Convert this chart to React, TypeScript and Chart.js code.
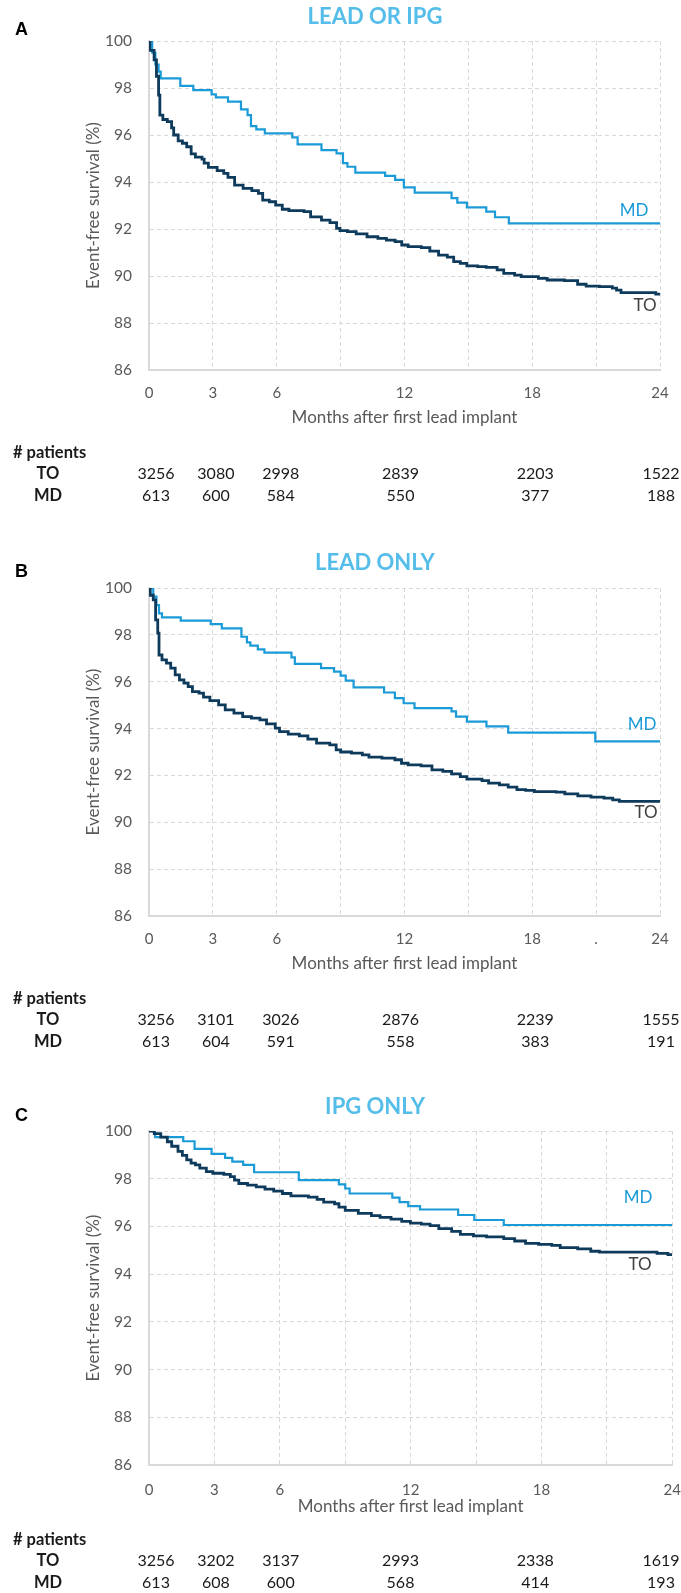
import React, { useEffect, useRef } from 'react';
import { Chart, registerables } from 'chart.js';

Chart.register(...registerables);

const FONT = 'Lato, "Open Sans", sans-serif';
const TO_COLOR = '#0e3a5c';
const MD_COLOR = '#1b9ad8';
const TITLE_COLOR = '#55bde9';
const AXIS_TEXT = '#595959';

// ---- data (month, event-free survival %) ----
const leadOrIpgTO: [number, number][] = [
  [0, 100], [0.04, 99.6], [0.24, 99.2], [0.35, 98.5], [0.45, 97.7], [0.51, 96.85], [0.65, 96.66],
  [0.86, 96.57], [1.06, 96.3], [1.16, 96.0], [1.37, 95.75], [1.57, 95.65], [1.77, 95.5], [1.98, 95.2],
  [2.18, 95.06], [2.49, 94.97], [2.59, 94.8], [2.79, 94.62], [3.2, 94.48], [3.51, 94.37], [3.71, 94.2],
  [4.02, 93.87], [4.42, 93.73], [4.83, 93.63], [5.14, 93.52], [5.34, 93.23], [5.65, 93.16], [5.95, 93.02],
  [6.26, 92.84], [6.57, 92.78], [7.28, 92.74], [7.59, 92.52], [8.1, 92.38], [8.5, 92.27], [8.81, 92.03],
  [8.97, 91.93], [9.32, 91.89], [9.73, 91.79], [10.24, 91.67], [10.75, 91.6], [11.15, 91.53], [11.56, 91.46],
  [11.87, 91.32], [12.17, 91.25], [12.79, 91.21], [13.19, 91.06], [13.6, 90.89], [14.01, 90.8], [14.31, 90.61],
  [14.62, 90.54], [14.93, 90.43], [15.44, 90.4], [15.84, 90.37], [16.35, 90.26], [16.66, 90.11], [17.17, 90.04],
  [17.48, 89.97], [18.29, 89.9], [18.7, 89.83], [19.51, 89.8], [20.13, 89.65], [20.53, 89.57], [21.15, 89.55],
  [21.76, 89.48], [21.96, 89.4], [22.17, 89.29], [23.8, 89.23], [24, 89.23],
];
const leadOrIpgMD: [number, number][] = [
  [0, 100], [0.15, 99.5], [0.3, 99.0], [0.45, 98.7], [0.55, 98.41], [1.47, 98.09], [2.08, 97.91],
  [2.94, 97.73], [3.14, 97.6], [3.71, 97.42], [4.32, 97.09], [4.63, 96.85], [4.79, 96.38], [5.04, 96.24],
  [5.44, 96.07], [6.73, 95.9], [6.98, 95.6], [8.1, 95.36], [8.81, 95.22], [9.11, 94.8], [9.32, 94.65],
  [9.69, 94.4], [11.09, 94.26], [11.56, 94.09], [11.97, 93.77], [12.48, 93.55], [14.21, 93.31], [14.48, 93.12],
  [14.93, 92.92], [15.84, 92.74], [16.25, 92.5], [16.9, 92.24], [24, 92.24],
];
const leadOnlyTO: [number, number][] = [
  [0, 100], [0.06, 99.69], [0.2, 99.49], [0.31, 98.64], [0.41, 98.07], [0.47, 97.14], [0.61, 96.93],
  [0.82, 96.79], [1.02, 96.58], [1.23, 96.29], [1.43, 96.08], [1.64, 95.94], [1.84, 95.79], [2.04, 95.58],
  [2.35, 95.51], [2.56, 95.34], [2.86, 95.19], [3.27, 95.01], [3.58, 94.8], [3.99, 94.66], [4.4, 94.51],
  [4.81, 94.45], [5.21, 94.37], [5.52, 94.2], [5.93, 94.02], [6.13, 93.87], [6.54, 93.76], [7.06, 93.69],
  [7.46, 93.55], [7.87, 93.38], [8.49, 93.3], [8.79, 93.09], [9.0, 93.0], [9.51, 92.95], [10.02, 92.88],
  [10.33, 92.78], [10.94, 92.74], [11.55, 92.67], [11.86, 92.52], [12.17, 92.45], [12.78, 92.41], [13.29, 92.24],
  [13.8, 92.17], [14.21, 92.07], [14.62, 91.95], [14.93, 91.84], [15.64, 91.78], [15.95, 91.67], [16.46, 91.6],
  [16.87, 91.5], [17.28, 91.39], [17.69, 91.36], [18.1, 91.31], [19.12, 91.29], [19.53, 91.21], [20.14, 91.13],
  [20.76, 91.07], [21.37, 91.03], [21.78, 90.96], [22.09, 90.89], [24, 90.89],
];
const leadOnlyMD: [number, number][] = [
  [0, 100], [0.2, 99.63], [0.35, 99.27], [0.47, 98.92], [0.61, 98.75], [1.49, 98.61], [2.9, 98.46],
  [3.42, 98.28], [4.34, 97.92], [4.6, 97.68], [4.76, 97.54], [5.11, 97.38], [5.42, 97.24], [6.69, 97.04],
  [6.85, 96.76], [8.08, 96.58], [8.69, 96.43], [9.0, 96.26], [9.24, 96.05], [9.61, 95.76], [11.04, 95.54],
  [11.55, 95.3], [11.96, 95.08], [12.47, 94.87], [14.21, 94.73], [14.42, 94.51], [14.93, 94.3], [15.85, 94.09],
  [16.87, 93.83], [20.96, 93.45], [24, 93.45],
];
const ipgOnlyTO: [number, number][] = [
  [0, 100], [0.24, 99.89], [0.54, 99.74], [0.84, 99.55], [1.04, 99.36], [1.33, 99.15], [1.53, 98.98],
  [1.73, 98.79], [1.93, 98.65], [2.13, 98.58], [2.33, 98.44], [2.63, 98.3], [2.93, 98.23], [3.43, 98.18],
  [3.73, 98.09], [3.92, 97.94], [4.12, 97.8], [4.52, 97.73], [4.92, 97.66], [5.32, 97.56], [5.72, 97.48],
  [6.12, 97.38], [6.51, 97.28], [7.31, 97.23], [7.71, 97.13], [8.01, 97.02], [8.51, 96.95], [8.71, 96.81],
  [9.0, 96.67], [9.6, 96.55], [10.2, 96.45], [10.6, 96.38], [11.1, 96.31], [11.59, 96.21], [11.99, 96.14],
  [12.49, 96.1], [12.89, 96.03], [13.29, 95.91], [13.88, 95.79], [14.28, 95.67], [14.88, 95.6], [15.48, 95.56],
  [16.27, 95.49], [16.77, 95.39], [17.27, 95.29], [17.87, 95.25], [18.47, 95.21], [18.86, 95.11], [19.66, 95.06],
  [20.26, 94.96], [20.66, 94.92], [23.3, 94.87], [23.8, 94.82], [24, 94.82],
];
const ipgOnlyMD: [number, number][] = [
  [0, 100], [0.28, 99.74], [1.57, 99.57], [2.09, 99.25], [2.87, 99.04], [3.49, 98.87], [3.82, 98.72],
  [4.32, 98.58], [4.82, 98.27], [6.87, 97.94], [8.71, 97.76], [9.0, 97.59], [9.2, 97.38], [11.16, 97.21],
  [11.49, 97.02], [11.89, 96.85], [12.43, 96.71], [14.18, 96.48], [14.92, 96.27], [16.27, 96.06], [24, 96.06],
];

// ---- axis tick labels ----
const monthTickLabels = ['0', '3', '6', '', '12', '', '18', '', '24'];
const monthTickLabelsB = ['0', '3', '6', '', '12', '', '18', '.', '24'];

// ---- numbers at risk ----
const riskMonths = [0, 3, 6, 12, 18, 24];
const riskLeadOrIpgTO = [3256, 3080, 2998, 2839, 2203, 1522];
const riskLeadOrIpgMD = [613, 600, 584, 550, 377, 188];
const riskLeadOnlyTO = [3256, 3101, 3026, 2876, 2239, 1555];
const riskLeadOnlyMD = [613, 604, 591, 558, 383, 191];
const riskIpgOnlyTO = [3256, 3202, 3137, 2993, 2338, 1619];
const riskIpgOnlyMD = [613, 608, 600, 568, 414, 193];

// ---- layout (global page coordinates) ----
type PanelCfg = {
  letter: string; title: string;
  to: [number, number][]; md: [number, number][];
  ticks: string[]; riskTO: number[]; riskMD: number[];
  top: number; height: number;
  plotTop: number; plotBottom: number; plotRight: number;
  letterY: number; titleY: number;
  xTickGap: number; xTitlePad: number;
  mdLbl: [number, number]; toLbl: [number, number];
  tableY: [number, number, number];
};

const PLOT_LEFT = 149;
const X_SCALE_H = 60;
const TABLE_SPAN = 511;
const TABLE_DX = [7, 3, 4, -4, 3, 1];

const panels: PanelCfg[] = [
  {
    letter: 'A', title: 'LEAD OR IPG', to: leadOrIpgTO, md: leadOrIpgMD, ticks: monthTickLabels,
    riskTO: riskLeadOrIpgTO, riskMD: riskLeadOrIpgMD,
    top: 0, height: 530, plotTop: 41, plotBottom: 370, plotRight: 660,
    letterY: 30, titleY: 17, xTickGap: 14, xTitlePad: 2,
    mdLbl: [634, 211], toLbl: [645, 306], tableY: [453, 474, 496],
  },
  {
    letter: 'B', title: 'LEAD ONLY', to: leadOnlyTO, md: leadOnlyMD, ticks: monthTickLabelsB,
    riskTO: riskLeadOnlyTO, riskMD: riskLeadOnlyMD,
    top: 530, height: 530, plotTop: 588, plotBottom: 916, plotRight: 660,
    letterY: 572, titleY: 563, xTickGap: 14, xTitlePad: 2,
    mdLbl: [642, 725], toLbl: [646, 813], tableY: [999, 1020, 1042],
  },
  {
    letter: 'C', title: 'IPG ONLY', to: ipgOnlyTO, md: ipgOnlyMD, ticks: monthTickLabels,
    riskTO: riskIpgOnlyTO, riskMD: riskIpgOnlyMD,
    top: 1060, height: 533, plotTop: 1131, plotBottom: 1465, plotRight: 673,
    letterY: 1116, titleY: 1107, xTickGap: 16, xTitlePad: 8,
    mdLbl: [638, 1198], toLbl: [640, 1265], tableY: [1540, 1561, 1583],
  },
];

function makeOverlay(p: PanelCfg) {
  return {
    id: 'overlay' + p.letter,
    afterDraw(chart: any) {
      const ctx: CanvasRenderingContext2D = chart.ctx;
      const o = p.top;
      ctx.save();
      ctx.textBaseline = 'middle';
      // panel letter
      ctx.font = 'bold 18px "Liberation Sans", Arial, sans-serif';
      ctx.fillStyle = '#000';
      ctx.textAlign = 'left';
      ctx.fillText(p.letter, 15, p.letterY - o);
      // title
      ctx.font = `bold 22px ${FONT}`;
      ctx.fillStyle = TITLE_COLOR;
      ctx.textAlign = 'center';
      ctx.fillText(p.title, 375, p.titleY - o);
      // end labels
      ctx.font = `17px ${FONT}`;
      ctx.fillStyle = MD_COLOR;
      ctx.fillText('MD', p.mdLbl[0], p.mdLbl[1] - o);
      ctx.fillStyle = '#404040';
      ctx.fillText('TO', p.toLbl[0], p.toLbl[1] - o);
      // numbers at risk
      ctx.fillStyle = '#1a1a1a';
      ctx.font = `bold 16.5px ${FONT}`;
      ctx.textAlign = 'left';
      ctx.fillText('# patients', 13, p.tableY[0] - o);
      ctx.textAlign = 'center';
      ctx.fillText('TO', 48, p.tableY[1] - o);
      ctx.fillText('MD', 48, p.tableY[2] - o);
      ctx.font = `16px ${FONT}`;
      const colScale = TABLE_SPAN / 24;
      riskMonths.forEach((m, i) => {
        const x = PLOT_LEFT + m * colScale + TABLE_DX[i];
        ctx.fillText(String(p.riskTO[i]), x, p.tableY[1] - o);
        ctx.fillText(String(p.riskMD[i]), x, p.tableY[2] - o);
      });
      ctx.restore();
    },
  };
}

function Panel({ p }: { p: PanelCfg }) {
  const ref = useRef<HTMLCanvasElement>(null);
  useEffect(() => {
    const canvas = ref.current!;
    const chart = new Chart(canvas, {
      type: 'line',
      data: {
        datasets: [
          {
            label: 'TO', data: p.to.map(([x, y]) => ({ x, y })), borderColor: TO_COLOR,
            borderWidth: 2.8, stepped: 'before', pointRadius: 0, fill: false,
          },
          {
            label: 'MD', data: p.md.map(([x, y]) => ({ x, y })), borderColor: MD_COLOR,
            borderWidth: 2.2, stepped: 'before', pointRadius: 0, fill: false,
          },
        ],
      },
      options: {
        animation: false,
        responsive: false,
        devicePixelRatio: 1,
        events: [],
        layout: {
          padding: {
            top: p.plotTop - p.top,
            left: 0,
            right: 681 - p.plotRight,
            bottom: p.height - (p.plotBottom - p.top) - X_SCALE_H,
          },
        },
        plugins: { legend: { display: false }, tooltip: { enabled: false }, title: { display: false } },
        scales: {
          x: {
            type: 'linear', min: 0, max: 24,
            afterFit: (s: any) => { s.height = X_SCALE_H; },
            ticks: {
              stepSize: 3, autoSkip: false, maxRotation: 0, padding: 0,
              color: AXIS_TEXT, font: { family: FONT, size: 15 },
              callback: (v: any) => p.ticks[Math.round(Number(v) / 3)] ?? '',
            },
            grid: {
              color: '#d9d9d9', lineWidth: 1, drawTicks: true,
              tickLength: p.xTickGap, tickColor: 'rgba(0,0,0,0)',
            },
            border: { display: true, color: '#d9d9d9', width: 2, dash: [4, 3] },
            title: {
              display: true, text: 'Months after first lead implant', color: AXIS_TEXT,
              font: { family: FONT, size: 17 }, padding: { top: 0, bottom: p.xTitlePad },
            },
          },
          y: {
            type: 'linear', min: 86, max: 100,
            afterFit: (s: any) => { s.width = PLOT_LEFT; },
            ticks: {
              stepSize: 2, padding: 17, color: AXIS_TEXT, font: { family: FONT, size: 15.5 },
            },
            grid: { color: '#d9d9d9', lineWidth: 1, drawTicks: false },
            border: { display: true, color: '#d9d9d9', width: 2, dash: [4, 3] },
            title: {
              display: true, text: 'Event-free survival (%)', color: AXIS_TEXT,
              font: { family: FONT, size: 17 }, padding: { top: 83, bottom: 0 },
            },
          },
        },
      },
      plugins: [makeOverlay(p)],
    } as any);
    return () => chart.destroy();
  }, []);
  return (
    <canvas
      ref={ref}
      width={681}
      height={p.height}
      style={{ position: 'absolute', left: 0, top: p.top, width: 681, height: p.height }}
    />
  );
}

export default function App() {
  return (
    <div style={{ position: 'absolute', left: 0, top: 0, width: 681, height: 1593, background: '#fff' }}>
      {panels.map((p) => <Panel key={p.letter} p={p} />)}
    </div>
  );
}
